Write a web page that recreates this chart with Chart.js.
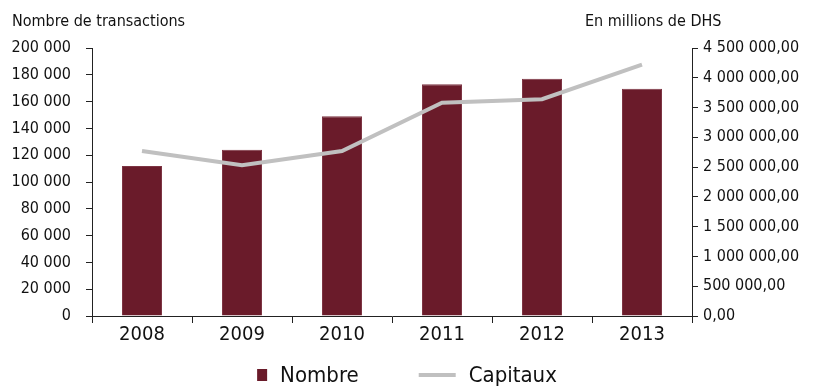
<!DOCTYPE html>
<html>
<head>
<meta charset="utf-8">
<script src="https://cdn.jsdelivr.net/npm/chart.js@4"></script>
<style>
  html, body { margin: 0; padding: 0; background: #fff; }
  #wrap { width: 818px; height: 388px; position: relative; }
</style>
</head>
<body>
<div id="wrap"><canvas id="chart"></canvas></div>
<script>
const FONT = "'DejaVu Sans Condensed', 'Liberation Sans Narrow', sans-serif";

const years = ['2008', '2009', '2010', '2011', '2012', '2013'];
const nombre = [112000, 124000, 149000, 173000, 177000, 169500];
const capitaux = [2770000, 2530000, 2770000, 3580000, 3640000, 4220000];
const leftTitle = 'Nombre de transactions';
const rightTitle = 'En millions de DHS';

const BAR = '#6a1b2a';
const LINE = '#c0c0c0';

// thousands with a space, optional decimals with a comma
function fmt(v, dec) {
  const s = dec ? v.toFixed(dec) : String(Math.round(v));
  const parts = s.split('.');
  const int = parts[0].replace(/\B(?=(\d{3})+(?!\d))/g, ' ');
  return parts[1] ? int + ',' + parts[1] : int;
}

const extras = {
  id: 'extras',
  afterDraw(chart) {
    const ctx = chart.ctx;
    ctx.save();
    ctx.fillStyle = '#111';
    ctx.textBaseline = 'alphabetic';
    ctx.font = '16px ' + FONT;
    ctx.textAlign = 'left';
    ctx.fillText(leftTitle, 12, 26);
    ctx.fillText(rightTitle, 585, 26);

    // legend: bar series first, then the line
    const ds = chart.data.datasets.slice().sort((a, b) => b.order - a.order);
    ctx.font = '22px ' + FONT;
    const items = ds.map(d => ({ label: d.label, type: d.type, color: d.type === 'line' ? d.borderColor : d.backgroundColor, w: d.type === 'line' ? 37 : 10 }));
    const gap = 13, between = 60;
    let total = between;
    items.forEach(it => { total += it.w + gap + ctx.measureText(it.label).width; });
    let x = 818 / 2 - total / 2 - 2;
    const y = 375;
    items.forEach(it => {
      if (it.type === 'line') {
        ctx.strokeStyle = it.color;
        ctx.lineWidth = 4;
        ctx.beginPath();
        ctx.moveTo(x, y);
        ctx.lineTo(x + it.w, y);
        ctx.stroke();
      } else {
        ctx.fillStyle = it.color;
        ctx.fillRect(x, y - 6, it.w, 12);
      }
      x += it.w + gap;
      ctx.fillStyle = '#111';
      ctx.textBaseline = 'middle';
      ctx.fillText(it.label, x, y + 1);
      x += ctx.measureText(it.label).width + between;
    });
    ctx.restore();
  }
};

new Chart(document.getElementById('chart'), {
  data: {
    labels: years,
    datasets: [
      {
        type: 'line',
        label: 'Capitaux',
        data: capitaux,
        yAxisID: 'y1',
        borderColor: LINE,
        borderWidth: 4,
        pointRadius: 0,
        tension: 0,
        order: 0
      },
      {
        type: 'bar',
        label: 'Nombre',
        data: nombre,
        yAxisID: 'y',
        backgroundColor: BAR,
        borderColor: '#7d3443',
        borderWidth: 1,
        barPercentage: 0.4,
        categoryPercentage: 1,
        order: 1
      }
    ]
  },
  options: {
    responsive: true,
    maintainAspectRatio: false,
    animation: false,
    layout: { padding: { top: 48, left: 0, right: 0, bottom: 42 } },
    plugins: {
      legend: { display: false },
      tooltip: { enabled: false }
    },
    scales: {
      x: {
        offset: true,
        afterFit: s => { s.height = 30; },
        grid: { offset: true, drawOnChartArea: false, drawTicks: true, tickLength: 7, color: '#222' },
        border: { color: '#222', width: 1 },
        ticks: { color: '#111', font: { family: FONT, size: 20 }, padding: 0 }
      },
      y: {
        position: 'left',
        min: 0, max: 200000,
        afterFit: s => { s.width = 92; },
        grid: { drawOnChartArea: false, drawTicks: true, tickLength: 6, color: '#222' },
        border: { color: '#222', width: 1 },
        ticks: { stepSize: 20000, color: '#111', font: { family: FONT, size: 16 }, padding: 15, callback: v => fmt(v) }
      },
      y1: {
        position: 'right',
        min: 0, max: 4500000,
        afterFit: s => { s.width = 126; },
        grid: { drawOnChartArea: false, drawTicks: true, tickLength: 6, color: '#222' },
        border: { color: '#222', width: 1 },
        ticks: { stepSize: 500000, color: '#111', font: { family: FONT, size: 16 }, padding: 5, callback: v => fmt(v, 2) }
      }
    }
  },
  plugins: [extras]
});
</script>
</body>
</html>
